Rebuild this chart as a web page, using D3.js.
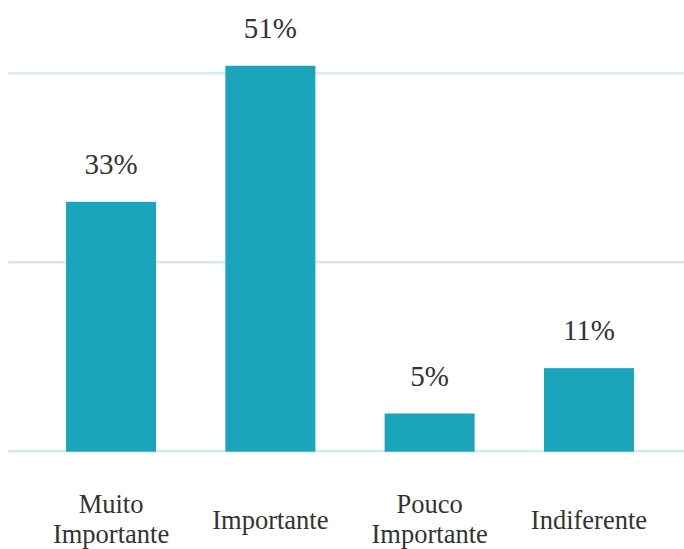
<!DOCTYPE html>
<html>
<head>
<meta charset="utf-8">
<script src="https://cdn.jsdelivr.net/npm/d3@7"></script>
<style>
  html, body { margin: 0; padding: 0; background: #ffffff; }
  svg { display: block; }
</style>
</head>
<body>
<svg id="chart" width="684" height="549"></svg>
<script>
const categories = ["Muito Importante", "Importante", "Pouco Importante", "Indiferente"];
const values = [33, 51, 5, 11];
const tickLabels = [["Muito", "Importante"], ["Importante"], ["Pouco", "Importante"], ["Indiferente"]];
const gridValues = [0, 25, 50];

const svg = d3.select("#chart");
const font = "'Liberation Serif', 'Times New Roman', serif";

const x = d3.scaleBand()
  .domain(categories)
  .range([31.4, 668.6])
  .paddingInner(0.435)
  .paddingOuter(0.2175);

const y = d3.scaleLinear()
  .domain([0, 50])
  .range([451.3, 73.3]);

// gridlines
svg.append("g")
  .selectAll("line")
  .data(gridValues)
  .join("line")
  .attr("x1", 8)
  .attr("x2", 684)
  .attr("y1", d => y(d))
  .attr("y2", d => y(d))
  .attr("stroke", "#d6ebf1")
  .attr("stroke-width", 2.4);

// bars
svg.append("g")
  .selectAll("rect")
  .data(categories)
  .join("rect")
  .attr("x", d => x(d))
  .attr("width", x.bandwidth())
  .attr("y", (d, i) => y(values[i]))
  .attr("height", (d, i) => y(0) - y(values[i]) + 0.4)
  .attr("fill", "#1aa5bc");

// value labels
svg.append("g")
  .selectAll("text")
  .data(categories)
  .join("text")
  .attr("x", d => x(d) + x.bandwidth() / 2)
  .attr("y", (d, i) => y(values[i]) - 28)
  .attr("text-anchor", "middle")
  .attr("font-family", font)
  .attr("font-size", 29)
  .attr("fill", "#333333")
  .text((d, i) => values[i] + "%");

// category labels
const lab = svg.append("g")
  .selectAll("text")
  .data(categories)
  .join("text")
  .attr("text-anchor", "middle")
  .attr("font-family", font)
  .attr("font-size", 26.5)
  .attr("fill", "#333333")
  .attr("x", d => x(d) + x.bandwidth() / 2);

lab.each(function(d, i) {
  const lines = tickLabels[i];
  const lh = 30;
  const base = lines.length > 1 ? 513.2 : 529.2;
  d3.select(this).selectAll("tspan")
    .data(lines)
    .join("tspan")
    .attr("x", x(d) + x.bandwidth() / 2)
    .attr("y", (l, j) => base + j * lh)
    .text(l => l);
});
</script>
</body>
</html>
